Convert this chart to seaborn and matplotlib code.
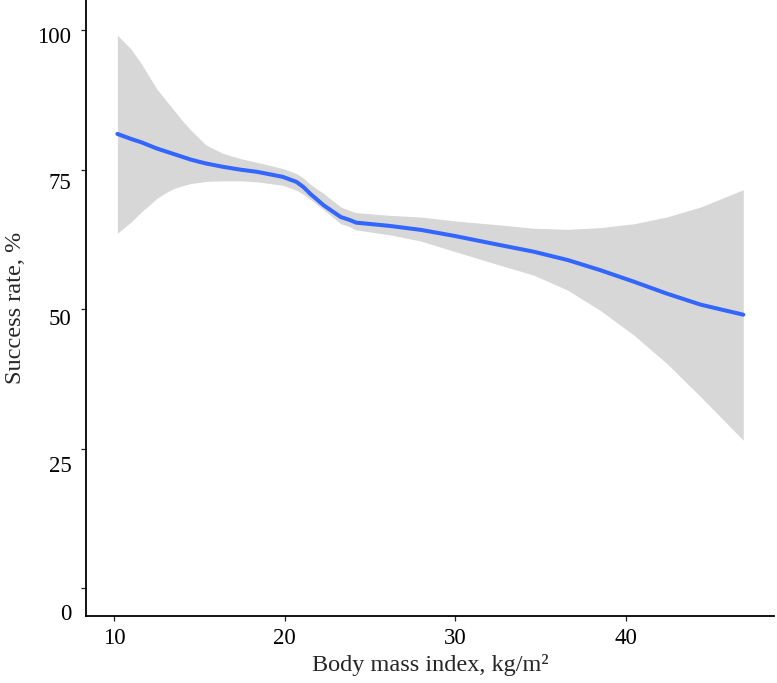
import matplotlib
matplotlib.use("Agg")
import matplotlib.pyplot as plt
import matplotlib.transforms as mtransforms
import seaborn as sns

bmi = [10.2, 11.0, 11.6, 12.5, 13.0, 13.5, 14.0, 14.5, 15.0, 15.4, 16.4, 17.4,
       18.4, 19.9, 20.7, 21.1, 21.5, 22.3, 23.3, 23.8, 24.2, 26.2, 28.0, 30.0,
       32.6, 34.6, 36.6, 38.5, 40.5, 42.4, 44.4, 46.9]
rate = [81.4, 80.5, 79.9, 78.8, 78.3, 77.8, 77.3, 76.8, 76.4, 76.1, 75.5, 75.0,
        74.6, 73.7, 72.8, 71.9, 70.7, 68.6, 66.5, 66.0, 65.5, 64.9, 64.2, 63.1,
        61.5, 60.3, 58.8, 57.0, 54.9, 52.8, 50.8, 49.0]
upper = [99.1, 96.6, 94.0, 89.5, 87.6, 85.7, 83.8, 82.1, 80.6, 79.4, 77.9, 77.0,
         76.3, 75.2, 74.3, 73.5, 72.4, 70.7, 68.3, 67.7, 67.3, 66.8, 66.5, 65.8,
         65.1, 64.5, 64.3, 64.6, 65.3, 66.5, 68.3, 71.4]
lower = [63.6, 65.6, 67.4, 69.8, 70.8, 71.6, 72.1, 72.5, 72.7, 72.9, 73.0, 73.0,
         72.8, 72.2, 71.3, 70.6, 69.7, 67.8, 65.3, 64.8, 64.2, 63.3, 62.2, 60.3,
         57.9, 56.1, 53.4, 49.8, 45.3, 40.3, 34.3, 26.5]

x_ticks = [10, 20, 30, 40]
y_ticks = [0, 25, 50, 75, 100]

sns.set_style("ticks")
plt.rcParams["font.family"] = ["Liberation Serif", "DejaVu Serif"]

fig = plt.figure(figsize=(7.77, 6.83), dpi=100)
ax = fig.add_axes([0.1107, 0.0981, 0.8854, 0.9019])

ax.fill_between(bmi, lower, upper, color="#d7d7d7", linewidth=0)
sns.lineplot(x=bmi, y=rate, ax=ax, color="#3366ff", linewidth=2.9, sort=False)

ax.set_xlim(8.36, 48.7)
ax.set_ylim(-5, 105.4)
ax.set_xticks(x_ticks)
ax.set_yticks(y_ticks)
ax.tick_params(axis="both", labelsize=16.5, length=3.5, width=0.9, colors="#222222",
               labelcolor="black")
ax.tick_params(axis="y", pad=7)
ax.tick_params(axis="x", pad=5)

# the reference's y labels sit a little below their ticks
shifts = [24, 15, 8, 11, 5]
for lab, s in zip(ax.get_yticklabels(), shifts):
    lab.set_transform(lab.get_transform() +
                      mtransforms.ScaledTranslation(0, -s / 100, fig.dpi_scale_trans))

for side in ["top", "right"]:
    ax.spines[side].set_visible(False)
for side in ["left", "bottom"]:
    ax.spines[side].set_linewidth(1.3)
    ax.spines[side].set_color("black")

ax.set_xlabel("Body mass index, kg/m²", fontsize=17.5, labelpad=4)
ax.set_ylabel("Success rate, %", fontsize=17.5, labelpad=8)

fig.savefig("out.png", dpi=100)
